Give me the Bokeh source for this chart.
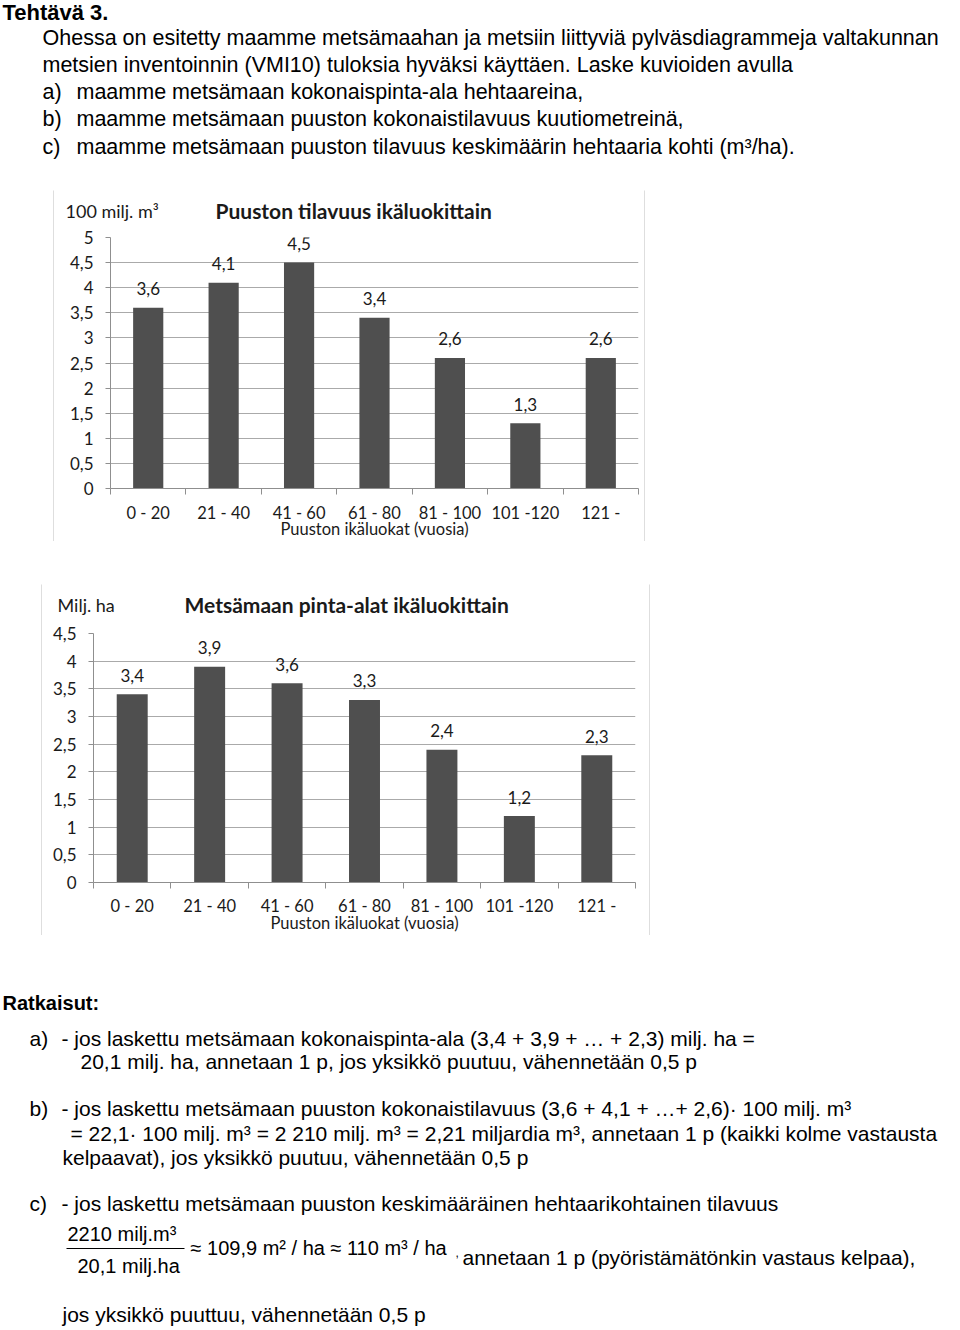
from bokeh.plotting import figure
from bokeh.models import (Range1d, FixedTicker, LinearAxis, Grid, LabelSet,
                          ColumnDataSource, Spacer)
from bokeh.layouts import column, row
from bokeh.embed import file_html
from bokeh.resources import INLINE
from bokeh.core.properties import value

# ---------------- data ----------------
age_classes = ["0 - 20", "21 - 40", "41 - 60", "61 - 80", "81 - 100", "101 -120", "121 -"]
volume_values = [3.6, 4.1, 4.5, 3.4, 2.6, 1.3, 2.6]      # 100 milj. m3
area_values = [3.4, 3.9, 3.6, 3.3, 2.4, 1.2, 2.3]        # milj. ha
volume_ticks = [0, 0.5, 1, 1.5, 2, 2.5, 3, 3.5, 4, 4.5, 5]
area_ticks = [0, 0.5, 1, 1.5, 2, 2.5, 3, 3.5, 4, 4.5]
volume_title = "Puuston tilavuus ikäluokittain"
area_title = "Metsämaan pinta-alat ikäluokittain"
volume_unit = "100 milj. m³"
area_unit = "Milj. ha"
x_title = "Puuston ikäluokat (vuosia)"

header_texts = [
    # x, y, text, size, style   (page pixels)
    (2, 12, "Tehtävä 3.", "22px", "bold"),
    (42, 37, "Ohessa on esitetty maamme metsämaahan ja metsiin liittyviä pylväsdiagrammeja valtakunnan", "21.5px", "normal"),
    (42, 64, "metsien inventoinnin (VMI10) tuloksia hyväksi käyttäen. Laske kuvioiden avulla", "21.5px", "normal"),
    (42, 91, "a)", "21.5px", "normal"),
    (76, 91, "maamme metsämaan kokonaispinta-ala hehtaareina,", "21.5px", "normal"),
    (42, 118, "b)", "21.5px", "normal"),
    (76, 118, "maamme metsämaan puuston kokonaistilavuus kuutiometreinä,", "21.5px", "normal"),
    (42, 146, "c)", "21.5px", "normal"),
    (76, 146, "maamme metsämaan puuston tilavuus keskimäärin hehtaaria kohti (m³/ha).", "21.5px", "normal"),
]

footer_texts = [
    (2, 1002, "Ratkaisut:", "20px", "bold"),
    (29, 1038, "a)", "21px", "normal"),
    (61, 1038, "- jos laskettu metsämaan kokonaispinta-ala (3,4 + 3,9 + … + 2,3) milj. ha =", "21px", "normal"),
    (80, 1061, "20,1 milj. ha, annetaan 1 p, jos yksikkö puutuu, vähennetään 0,5 p", "21px", "normal"),
    (29, 1108, "b)", "21px", "normal"),
    (61, 1108, "- jos laskettu metsämaan puuston kokonaistilavuus (3,6 + 4,1 + …+ 2,6)· 100 milj. m³", "21px", "normal"),
    (70, 1133, "= 22,1·  100 milj. m³ = 2 210 milj. m³ = 2,21 miljardia m³, annetaan 1 p (kaikki kolme vastausta", "21px", "normal"),
    (62, 1157, "kelpaavat), jos yksikkö puutuu, vähennetään 0,5 p", "21px", "normal"),
    (29, 1203, "c)", "21px", "normal"),
    (61, 1203, "- jos laskettu metsämaan puuston keskimääräinen hehtaarikohtainen tilavuus", "21px", "normal"),
    (67, 1233, "2210 milj.m³", "20px", "normal"),
    (77, 1265, "20,1 milj.ha", "20px", "normal"),
    (190, 1247, "≈ 109,9 m² / ha ≈ 110 m³ / ha", "20px", "normal"),
    (455, 1252, ",", "12px", "normal"),
    (462, 1257, "annetaan 1 p (pyöristämätönkin vastaus kelpaa),", "21px", "normal"),
    (62, 1314, "jos yksikkö puuttuu, vähennetään 0,5 p", "21px", "normal"),
]

BAR = "#4f4f4f"
GRID = "#aaaaaa"
AXIS = "#8f8f8f"
BOX = "#bdbdbd"
INK = "#1a1a1a"
CHART_FONT = "Lato"
TEXT_FONT = "Liberation Sans"


def fi(v):
    return f"{v:g}".replace(".", ",")


def blank(width, height, fill="white"):
    p = figure(width=width, height=height, x_range=Range1d(0, width),
               y_range=Range1d(height, 0), x_axis_type=None, y_axis_type=None,
               output_backend="svg", toolbar_location=None, min_border=0)
    p.outline_line_color = None
    p.background_fill_color = fill
    p.border_fill_color = fill
    if "frame_align" in p.properties():
        p.frame_align = False
    return p


def add_texts(p, items, font, color="#000000"):
    for x, y, t, size, style in items:
        p.text(x=[x], y=[y], text=[t], text_font=value(font),
               text_font_size=value(size), text_font_style=value(style),
               text_baseline="middle", text_align="left", text_color=color)


def make_plot(values, ticks, width, height, borders, xlab_standoff, xtitle_standoff):
    n = len(age_classes)
    centers = [i + 0.5 for i in range(n)]
    bounds = [float(i) for i in range(n + 1)]
    left, right, top, bottom = borders
    p = figure(width=width, height=height, x_range=Range1d(0, n), y_range=Range1d(0, ticks[-1]),
               x_axis_type=None, y_axis_type=None, output_backend="svg", toolbar_location=None,
               min_border_left=left, min_border_right=right, min_border_top=top,
               min_border_bottom=bottom)
    p.outline_line_color = None
    p.background_fill_color = "white"
    p.border_fill_color = "white"
    if "frame_align" in p.properties():
        p.frame_align = False

    yt = FixedTicker(ticks=ticks)
    p.add_layout(Grid(dimension=1, ticker=yt, grid_line_color=GRID, grid_line_width=1))

    src = ColumnDataSource(dict(x=centers, top=values, label=[fi(v) for v in values]))
    p.vbar(x="x", top="top", width=0.4, source=src, fill_color=BAR, line_color=None)
    p.add_layout(LabelSet(x="x", y="top", text="label", source=src, y_offset=19,
                          text_align="center", text_baseline="middle",
                          text_font=value(CHART_FONT), text_font_size=value("17px"),
                          text_color=INK))

    xa = LinearAxis(ticker=FixedTicker(ticks=centers, minor_ticks=bounds),
                    major_label_overrides={c: lab for c, lab in zip(centers, age_classes)})
    xa.axis_line_color = AXIS
    xa.major_tick_line_color = None
    xa.major_tick_in = 0
    xa.major_tick_out = 0
    xa.minor_tick_line_color = AXIS
    xa.minor_tick_in = 0
    xa.minor_tick_out = 6
    xa.major_label_standoff = xlab_standoff
    xa.major_label_text_font = CHART_FONT
    xa.major_label_text_font_size = "16.5px"
    xa.major_label_text_color = INK
    xa.axis_label = x_title
    xa.axis_label_standoff = xtitle_standoff
    xa.axis_label_text_font = CHART_FONT
    xa.axis_label_text_font_size = "16.5px"
    xa.axis_label_text_font_style = "normal"
    xa.axis_label_text_color = INK
    p.add_layout(xa, "below")

    ya = LinearAxis(ticker=yt, major_label_overrides={t: fi(t) for t in ticks})
    ya.axis_line_color = AXIS
    ya.major_tick_line_color = AXIS
    ya.major_tick_in = 0
    ya.major_tick_out = 5
    ya.minor_tick_line_color = None
    ya.major_label_standoff = 12
    ya.major_label_text_font = CHART_FONT
    ya.major_label_text_font_size = "17px"
    ya.major_label_text_color = INK
    p.add_layout(ya, "left")
    return p


def make_chart_box(values, ticks, unit, title, inner_w, top_h, plot_h, borders,
                   xlab_standoff, xtitle_standoff, unit_x, title_x):
    head = blank(inner_w, top_h)
    add_texts(head, [(unit_x, 20, unit, "18px", "normal"),
                     (title_x, 20, title, "21px", "bold")], CHART_FONT, INK)
    plot = make_plot(values, ticks, inner_w, plot_h, borders, xlab_standoff, xtitle_standoff)
    inner_h = top_h + plot_h
    outer_w = inner_w + 2
    return column(
        blank(outer_w, 1, BOX),
        row(blank(1, inner_h, BOX), column(head, plot), blank(1, inner_h, BOX)),
        blank(outer_w, 1, BOX),
    )


header = blank(960, 189)
add_texts(header, header_texts, TEXT_FONT)

footer = blank(960, 394)
footer.y_range = Range1d(1330, 936)
add_texts(footer, footer_texts, TEXT_FONT)
footer.segment(x0=[66], y0=[1248], x1=[184], y1=[1248], line_color="#000000", line_width=1)

# chart 1 box: page x 53..645, y 189..542
chart1 = make_chart_box(volume_values, volume_ticks, volume_unit, volume_title,
                        590, 35, 316, (56, 6, 12, 53), 8, -7, 11, 161)
# chart 2 box: page x 41..650, y 583..936
chart2 = make_chart_box(area_values, area_ticks, area_unit, area_title,
                        607, 39, 312, (51, 14, 10, 53), 7, -6, 15, 142)

layout = column(
    header,
    row(Spacer(width=53, height=353), chart1),
    Spacer(width=960, height=41),
    row(Spacer(width=41, height=353), chart2),
    footer,
)

open("out.html", "w").write(file_html(layout, INLINE))
